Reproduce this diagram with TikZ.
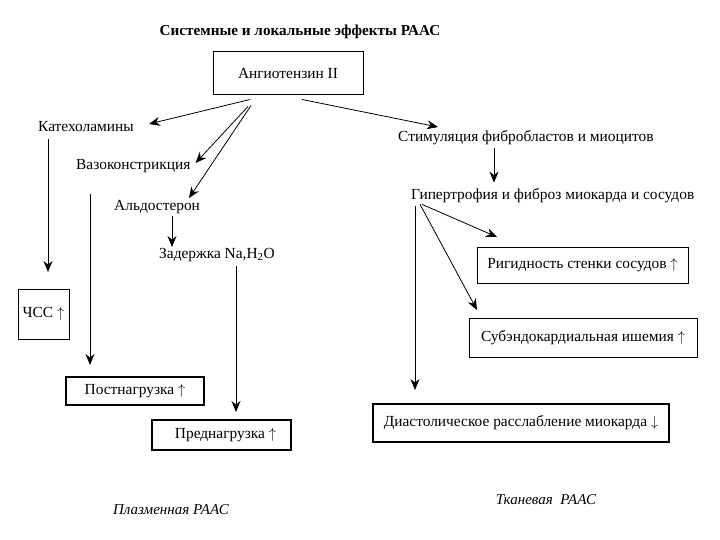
\documentclass[tikz,border=0pt]{standalone}
\usepackage{fontspec}
\setmainfont{Liberation Serif}
\usepackage{tikz}
\usetikzlibrary{arrows.meta,positioning}

\begin{document}
\begin{tikzpicture}[
    x=1pt, y=-1pt,
    font=\fontsize{15.4}{17}\selectfont,
    >={Stealth[length=11pt,width=9pt]},
    % Styles
    label/.style={inner sep=1pt, anchor=west},
    effect/.style={rectangle, draw=black, line width=0.7pt, align=center, inner sep=0pt, outer sep=0pt},
    strongbox/.style={effect, line width=1.3pt},
    arrow/.style={->, line width=0.8pt, draw=black},
    title/.style={font=\fontsize{15.2}{17}\selectfont\bfseries},
    caption/.style={font=\fontsize{15}{17}\selectfont\itshape}
]
\useasboundingbox (0,0) rectangle (720,540);

% --- Title and source ---
\node[title] (heading) at (300,32) {Системные и локальные эффекты РААС};
\node[effect, minimum width=150pt, minimum height=43pt] (angio) at (288,73) {Ангиотензин II};

% --- Plasma RAAS (left branch) ---
\node[label] (katechol) at (37,127) {Катехоламины};
\node[label] (vaso) at (75,166) {Вазоконстрикция};
\node[label] (aldo) at (113,207) {Альдостерон};
\node[label] (zader) at (158,255) {Задержка Na,H\textsubscript{2}O};
\node[effect, minimum width=51pt, minimum height=50pt] (chss) at (43.5,314) {ЧСС $\uparrow$};
\node[strongbox, minimum width=138pt, minimum height=28pt] (post) at (135,391) {Постнагрузка $\uparrow$};
\node[strongbox, minimum width=139pt, minimum height=30pt] (pred) at (221.5,435) {\hspace{8pt}Преднагрузка $\uparrow$};
\node[caption] (plasma) at (171,510) {Плазменная РААС};

% --- Tissue RAAS (right branch) ---
\node[label] (stim) at (397,138) {Стимуляция фибробластов и миоцитов};
\node[label] (hyper) at (410,196) {Гипертрофия и фиброз миокарда и сосудов};
\node[effect, minimum width=211pt, minimum height=36pt] (rigid) at (582.5,265) {Ригидность стенки сосудов $\uparrow$};
\node[effect, line width=1pt, minimum width=228pt, minimum height=39pt] (subendo) at (583,337.5) {Субэндокардиальная ишемия $\uparrow$};
\node[strongbox, minimum width=296pt, minimum height=38pt] (diast) at (521,423) {Диастолическое расслабление миокарда $\downarrow$};
\node[caption] (tissue) at (546,500) {Тканевая\ \ РААС};

% --- Connections ---
% Angiotensin II to its effects
\draw[arrow] ([xshift=-38pt,yshift=-5pt]angio.south) -- ([xshift=14pt,yshift=3pt]katechol.east);
\draw[arrow] ([xshift=-40pt,yshift=-12pt]angio.south) -- ([xshift=4pt,yshift=3pt]vaso.east);
\draw[arrow] ([xshift=-37pt,yshift=-11pt]angio.south) -- ([xshift=76pt,yshift=1pt]aldo.north west);
\draw[arrow] ([xshift=14pt,yshift=-5pt]angio.south) -- ([xshift=41pt,yshift=11pt]stim.west);

% Plasma flow
\draw[arrow] ([xshift=11pt,yshift=-6pt]katechol.south west) -- ([xshift=30pt,yshift=17pt]chss.north west);
\draw[arrow] ([xshift=15pt,yshift=-20pt]vaso.south west) -- ([xshift=24pt,yshift=12pt]post.north west);
\draw[arrow] ([xshift=59pt,yshift=-1pt]aldo.south west) -- ([xshift=14pt]zader.north west);
\draw[arrow] ([xshift=78pt,yshift=-3pt]zader.south west) -- ([xshift=84pt,yshift=8pt]pred.north west);

% Tissue flow
\draw[arrow] ([xshift=97pt,yshift=-2pt]stim.south west) -- ([xshift=84pt,yshift=5pt]hyper.north west);
\draw[arrow] ([xshift=12pt]hyper.south west) -- ([xshift=20pt,yshift=10pt]rigid.north west);
\draw[arrow] ([xshift=10pt]hyper.south west) -- ([xshift=8pt,yshift=8pt]subendo.north west);
\draw[arrow] ([xshift=5pt,yshift=-2pt]hyper.south west) -- ([xshift=42pt,yshift=14pt]diast.north west);

\end{tikzpicture}
\end{document}
